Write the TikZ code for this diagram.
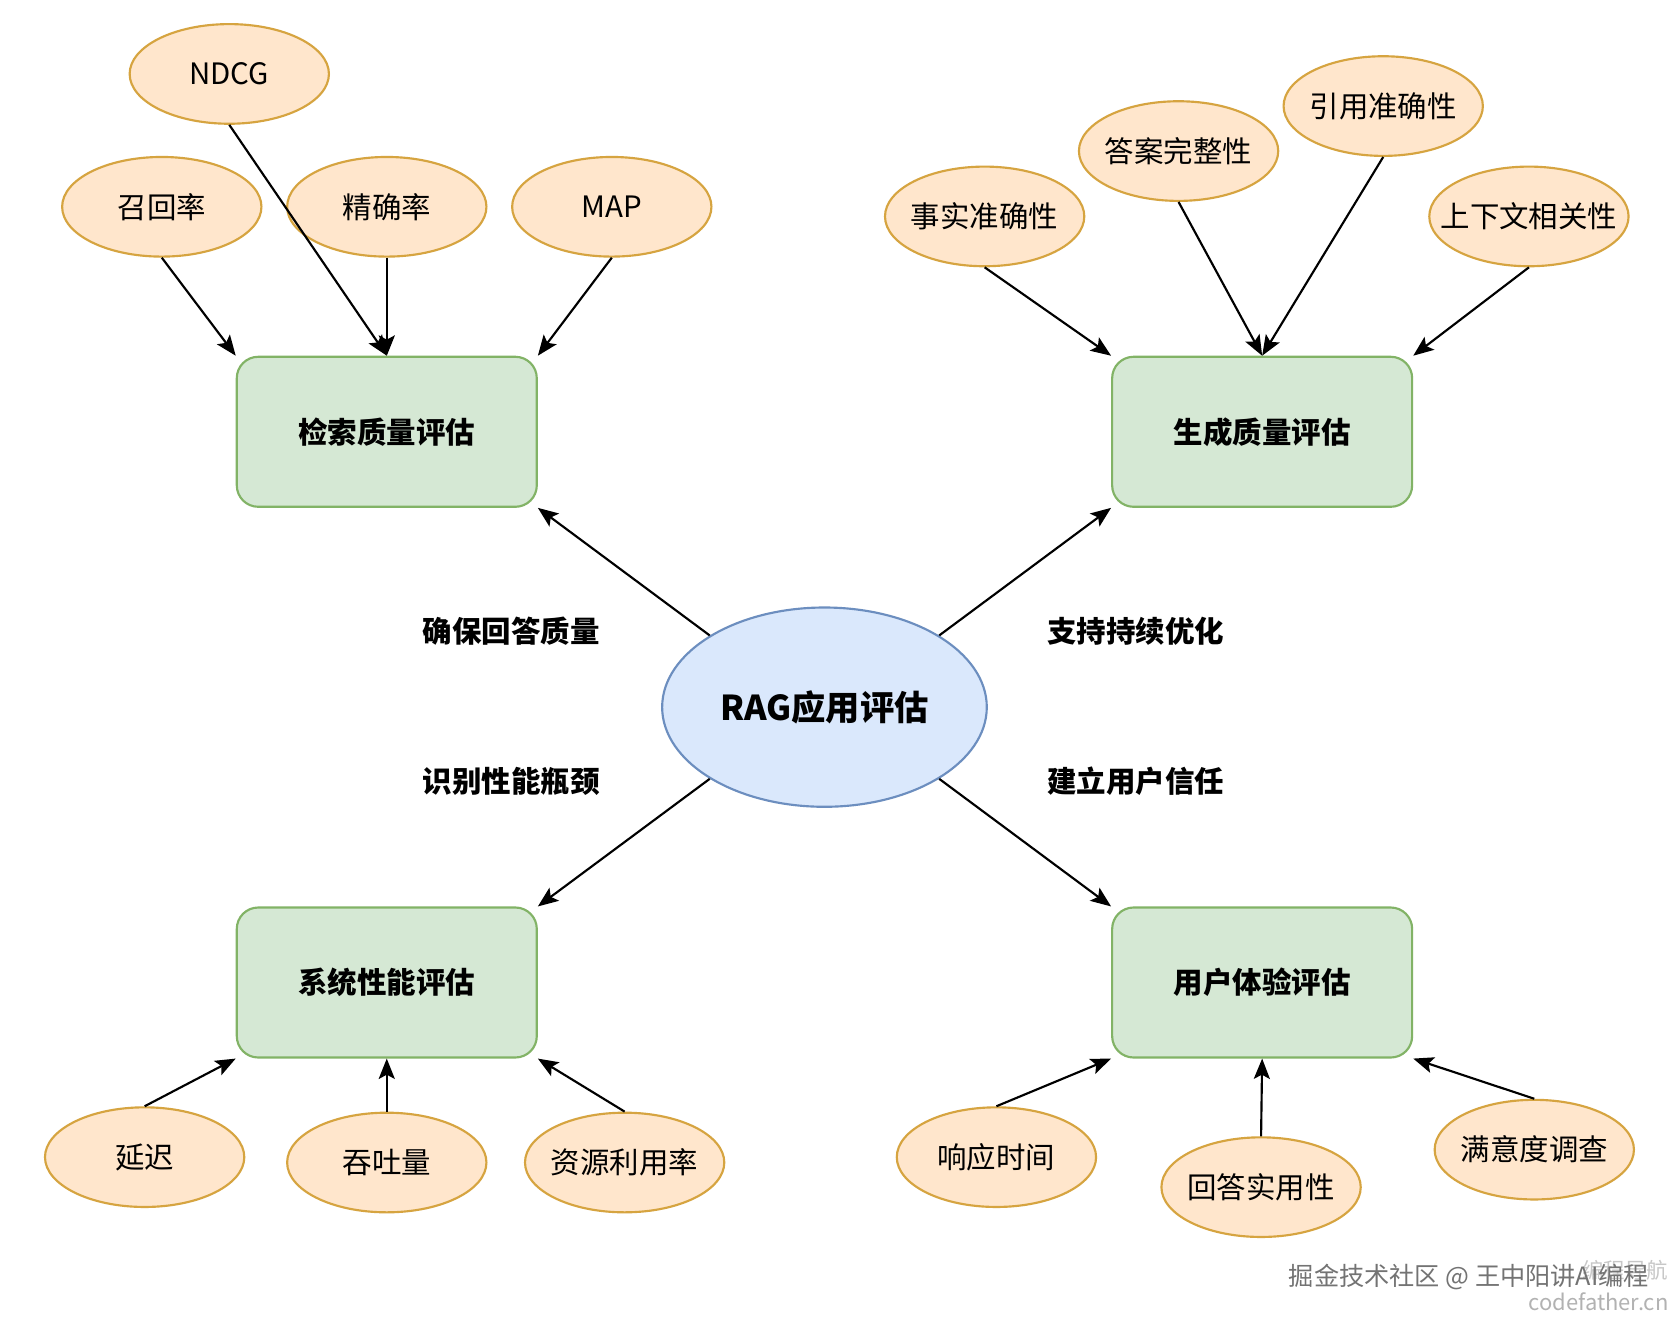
\documentclass[tikz,border=0pt]{standalone}
\usepackage{fontspec}
\setmainfont{Noto Sans CJK SC}
\usetikzlibrary{shapes.geometric,arrows.meta}
\definecolor{ofill}{HTML}{FFE6CC}
\definecolor{ostroke}{HTML}{D6A440}
\definecolor{gfill}{HTML}{D5E8D4}
\definecolor{gstroke}{HTML}{82B366}
\definecolor{bfill}{HTML}{DAE8FC}
\definecolor{bstroke}{HTML}{6C8EBF}
\newcommand{\zw}[1]{\makebox[0pt]{#1}}
\begin{document}
\begin{tikzpicture}[x=1pt,y=-1pt,
  leaf/.style={ellipse,draw=ostroke,fill=ofill,line width=2pt,minimum width=186pt,minimum height=93pt,inner sep=0pt,font=\fontsize{27.5}{32}\selectfont},
  cat/.style={rectangle,rounded corners=20pt,draw=gstroke,fill=gfill,line width=2pt,minimum width=280pt,minimum height=140pt,font=\fontsize{27.5}{32}\selectfont\bfseries},
  hub/.style={ellipse,draw=bstroke,fill=bfill,line width=2pt,minimum width=303pt,minimum height=186pt,inner sep=0pt,font=\fontsize{32}{38}\selectfont\bfseries},
  lbl/.style={inner sep=0pt,font=\fontsize{27.5}{32}\selectfont\bfseries},
  arr/.style={-{Stealth[length=19pt,width=15pt,inset=4pt]},line width=2pt},
  wm/.style={inner sep=0pt}]
\useasboundingbox (0,0) rectangle (1568,1235.7);
\fill[white] (0,0) rectangle (1568,1235.7);

% hub and categories
\node[hub] (c) at (769.5,660) {\zw{RAG应用评估}};
\node[cat] (ret) at (361,403) {检索质量评估};
\node[cat] (gen) at (1178,403) {生成质量评估};
\node[cat] (sys) at (361,917) {系统性能评估};
\node[cat] (ux) at (1178,917) {用户体验评估};

% edge labels
\node[lbl] (l1) at (477,589) {确保回答质量};
\node[lbl] (l2) at (1060,589) {支持持续优化};
\node[lbl] (l3) at (477,729) {识别性能瓶颈};
\node[lbl] (l4) at (1060,729) {建立用户信任};

% leaves
\node[leaf] (ndcg) at (214,69) {\zw{NDCG}};
\node[leaf] (recall) at (151,193) {\zw{召回率}};
\node[leaf] (prec) at (361,193) {\zw{精确率}};
\node[leaf] (map) at (571,193) {\zw{MAP}};
\node[leaf] (fact) at (919,202) {\zw{事实准确性}};
\node[leaf] (comp) at (1100,141) {\zw{答案完整性}};
\node[leaf] (cite) at (1291,99) {\zw{引用准确性}};
\node[leaf] (ctx) at (1427,202) {\zw{上下文相关性}};
\node[leaf] (lat) at (135,1080) {\zw{延迟}};
\node[leaf] (thr) at (361,1085) {\zw{吞吐量}};
\node[leaf] (res) at (583,1085) {\zw{资源利用率}};
\node[leaf] (resp) at (930,1080) {\zw{响应时间}};
\node[leaf] (use) at (1177,1108) {\zw{回答实用性}};
\node[leaf] (sat) at (1432,1073) {\zw{满意度调查}};

% hub connectors
\draw[arr] (c.148) -- (ret.south east);
\draw[arr] (c.32) -- (gen.south west);
\draw[arr] (c.212) -- (sys.north east);
\draw[arr] (c.328) -- (ux.north west);

% leaf connectors
\draw[arr] (recall.south) -- (ret.north west);
\draw[arr] (ndcg.south) -- (ret.north);
\draw[arr] (prec.south) -- (ret.north);
\draw[arr] (map.south) -- (ret.north east);
\draw[arr] (fact.south) -- (gen.north west);
\draw[arr] (comp.south) -- (gen.north);
\draw[arr] (cite.south) -- (gen.north);
\draw[arr] (ctx.south) -- (gen.north east);
\draw[arr] (lat.north) -- (sys.south west);
\draw[arr] (thr.north) -- (sys.south);
\draw[arr] (res.north) -- (sys.south east);
\draw[arr] (resp.north) -- (ux.south west);
\draw[arr] (use.north) -- (ux.south);
\draw[arr] (sat.north) -- (ux.south east);

% watermark
\node[wm,text=black!22,font=\fontsize{20}{22}\selectfont] (w3) at (1517,1186) {编程导航};
\node[wm,text=black!55,font=\fontsize{23.5}{26}\selectfont] (w1) at (1371,1192) {掘金技术社区 @ 王中阳讲AI编程};
\node[wm,text=black!30,font=\fontsize{20.5}{22}\selectfont] (w2) at (1492,1215) {codefather.cn};
\end{tikzpicture}
\end{document}
